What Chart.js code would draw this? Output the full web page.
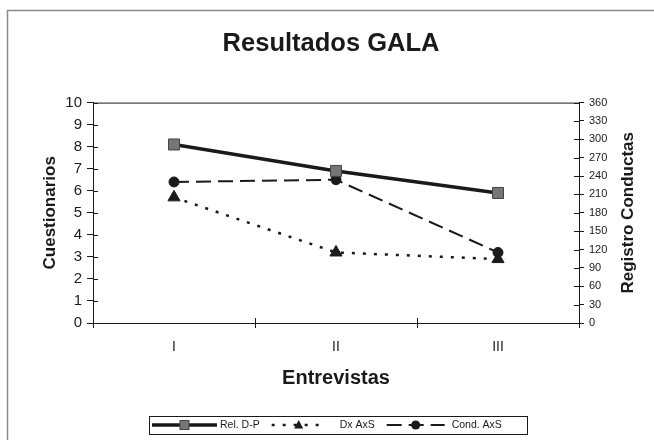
<!DOCTYPE html>
<html>
<head>
<meta charset="utf-8">
<script src="https://cdn.jsdelivr.net/npm/chart.js@4.4.0/dist/chart.umd.min.js"></script>
<style>
  html, body { margin: 0; padding: 0; background: #fff; }
  #wrap { width: 654px; height: 440px; position: relative; }
</style>
</head>
<body>
<div id="wrap"><canvas id="grafico" width="654" height="440"></canvas></div>
<script>
// --- Datos ---
const entrevistas = ["I", "II", "III"];
const relDP = [8.1, 6.9, 5.9];
const dxAxS = [5.7, 3.2, 2.9];
const condAxS = [6.4, 6.5, 3.2];
const ticksCuestionarios = [0, 1, 2, 3, 4, 5, 6, 7, 8, 9, 10];
const ticksRegistro = [0, 30, 60, 90, 120, 150, 180, 210, 240, 270, 300, 330, 360];

const FUENTE = '"Liberation Sans", Arial, sans-serif';
const NEGRO = "#1a1a1a";

// marco, linea superior, ticks interiores, titulo derecho y leyenda
const decoracion = {
  id: "decoracion",
  beforeDraw(chart) {
    const ctx = chart.ctx;
    ctx.save();
    ctx.strokeStyle = "#8a8a8a";
    ctx.lineWidth = 1.5;
    ctx.beginPath();
    ctx.moveTo(7.5, 440);
    ctx.lineTo(7.5, 10.5);
    ctx.lineTo(654, 10.5);
    ctx.stroke();
    ctx.restore();
  },
  afterDraw(chart) {
    const ctx = chart.ctx;
    const area = chart.chartArea;
    const y = chart.scales.y, y1 = chart.scales.y1, x = chart.scales.x;
    ctx.save();
    ctx.strokeStyle = NEGRO;
    ctx.lineWidth = 1;
    ctx.beginPath();
    ctx.moveTo(area.left, area.top + 0.5);
    ctx.lineTo(area.right, area.top + 0.5);
    y.ticks.forEach(t => {
      const p = Math.round(y.getPixelForValue(t.value)) + 0.5;
      ctx.moveTo(area.left, p); ctx.lineTo(area.left + 5, p);
    });
    y1.ticks.forEach(t => {
      const p = Math.round(y1.getPixelForValue(t.value)) + 0.5;
      ctx.moveTo(area.right - 5, p); ctx.lineTo(area.right, p);
    });
    for (let i = 0; i < entrevistas.length - 1; i++) {
      const p = Math.round((x.getPixelForValue(i) + x.getPixelForValue(i + 1)) / 2) + 0.5;
      ctx.moveTo(p, area.bottom - 5); ctx.lineTo(p, area.bottom);
    }
    ctx.stroke();

    // titulo eje derecho
    ctx.fillStyle = NEGRO;
    ctx.font = "bold 17px " + FUENTE;
    ctx.textAlign = "center";
    ctx.textBaseline = "middle";
    ctx.translate(628, (area.top + area.bottom) / 2);
    ctx.rotate(-Math.PI / 2);
    ctx.fillText("Registro Conductas", 0, 0);
    ctx.restore();

    dibujarLeyenda(chart);
  }
};

function dibujarLeyenda(chart) {
  const ctx = chart.ctx;
  const cy = 425;
  const caja = { left: 149, right: 527, top: 416, bottom: 434 };
  ctx.save();
  ctx.strokeStyle = NEGRO;
  ctx.lineWidth = 1;
  ctx.strokeRect(caja.left + 0.5, caja.top + 0.5, caja.right - caja.left, caja.bottom - caja.top);

  const anchos = [65, 54, 58];
  const separa = [3, 14, 7];
  let xPos = caja.left + 3;
  chart.data.datasets.forEach((ds, i) => {
    const x0 = xPos, x1 = xPos + anchos[i];
    ctx.strokeStyle = ds.borderColor;
    ctx.lineWidth = ds.borderWidth;
    ctx.setLineDash(ds.borderDash || []);
    ctx.beginPath();
    ctx.moveTo(x0, cy); ctx.lineTo(x1, cy);
    ctx.stroke();
    ctx.setLineDash([]);
    const cx = (x0 + x1) / 2;
    ctx.fillStyle = ds.pointBackgroundColor;
    ctx.strokeStyle = ds.pointBorderColor;
    ctx.lineWidth = 1;
    if (ds.pointStyle === "rect") {
      ctx.fillRect(cx - 4.5, cy - 4.5, 9, 9);
      ctx.strokeRect(cx - 4.5, cy - 4.5, 9, 9);
    } else if (ds.pointStyle === "triangle") {
      ctx.beginPath();
      ctx.moveTo(cx, cy - 5); ctx.lineTo(cx + 4.5, cy + 3.5); ctx.lineTo(cx - 4.5, cy + 3.5);
      ctx.closePath(); ctx.fill();
    } else {
      ctx.beginPath(); ctx.arc(cx, cy, 4.5, 0, Math.PI * 2); ctx.fill();
    }
    ctx.fillStyle = NEGRO;
    ctx.font = "10.5px " + FUENTE;
    ctx.textAlign = "left";
    ctx.textBaseline = "middle";
    const xt = x1 + separa[i];
    ctx.fillText(ds.label, xt, cy + 0.5);
    xPos = xt + ctx.measureText(ds.label).width + 12;
  });
  ctx.restore();
}

const ctx = document.getElementById("grafico").getContext("2d");
new Chart(ctx, {
  type: "line",
  data: {
    labels: entrevistas,
    datasets: [
      {
        label: "Rel. D-P",
        data: relDP,
        yAxisID: "y",
        borderColor: NEGRO,
        borderWidth: 3.5,
        pointStyle: "rect",
        pointRadius: 7.8,
        pointBackgroundColor: "#767676",
        pointBorderColor: "#444",
        pointBorderWidth: 1
      },
      {
        label: "Dx AxS",
        data: dxAxS,
        yAxisID: "y",
        borderColor: NEGRO,
        borderWidth: 2.5,
        borderDash: [3, 8],
        pointStyle: "triangle",
        pointRadius: 7,
        pointBackgroundColor: NEGRO,
        pointBorderColor: NEGRO,
        pointBorderWidth: 1
      },
      {
        label: "Cond. AxS",
        data: condAxS,
        yAxisID: "y",
        borderColor: NEGRO,
        borderWidth: 2,
        borderDash: [15, 7],
        pointStyle: "circle",
        pointRadius: 5,
        pointBackgroundColor: NEGRO,
        pointBorderColor: NEGRO,
        pointBorderWidth: 1
      }
    ]
  },
  options: {
    responsive: false,
    animation: false,
    devicePixelRatio: 1,
    layout: { padding: { top: 10, left: 8, right: 0, bottom: 37 } },
    plugins: {
      legend: { display: false },
      tooltip: { enabled: false },
      title: {
        display: true,
        text: "Resultados GALA",
        color: NEGRO,
        font: { family: FUENTE, size: 25.5, weight: "bold" },
        padding: { top: 19, bottom: 43 }
      }
    },
    scales: {
      x: {
        offset: true,
        grid: { offset: true, drawOnChartArea: false, tickLength: 5, color: NEGRO },
        border: { color: NEGRO, width: 1 },
        ticks: { color: NEGRO, font: { family: FUENTE, size: 14 }, padding: 11, maxRotation: 0 },
        title: {
          display: true,
          text: "Entrevistas",
          color: NEGRO,
          font: { family: FUENTE, size: 20, weight: "bold" },
          padding: { top: 0, bottom: 13 }
        },
        afterFit(scale) { scale.height = 80; }
      },
      y: {
        position: "left",
        min: ticksCuestionarios[0],
        max: ticksCuestionarios[ticksCuestionarios.length - 1],
        ticks: { stepSize: ticksCuestionarios[1] - ticksCuestionarios[0], color: NEGRO, font: { family: FUENTE, size: 15 }, padding: 5 },
        grid: { drawOnChartArea: false, tickLength: 6, color: NEGRO },
        border: { color: NEGRO, width: 1 },
        title: {
          display: true,
          text: "Cuestionarios",
          color: NEGRO,
          font: { family: FUENTE, size: 17, weight: "bold" },
          padding: { top: 32, bottom: 0 }
        },
        afterFit(scale) { scale.width = 85; }
      },
      y1: {
        position: "right",
        min: ticksRegistro[0],
        max: ticksRegistro[ticksRegistro.length - 1],
        ticks: { stepSize: ticksRegistro[1] - ticksRegistro[0], color: NEGRO, font: { family: FUENTE, size: 11 }, padding: 5 },
        grid: { drawOnChartArea: false, tickLength: 5, color: NEGRO },
        border: { color: NEGRO, width: 1 },
        afterFit(scale) { scale.width = 75; }
      }
    }
  },
  plugins: [decoracion]
});
</script>
</body>
</html>
